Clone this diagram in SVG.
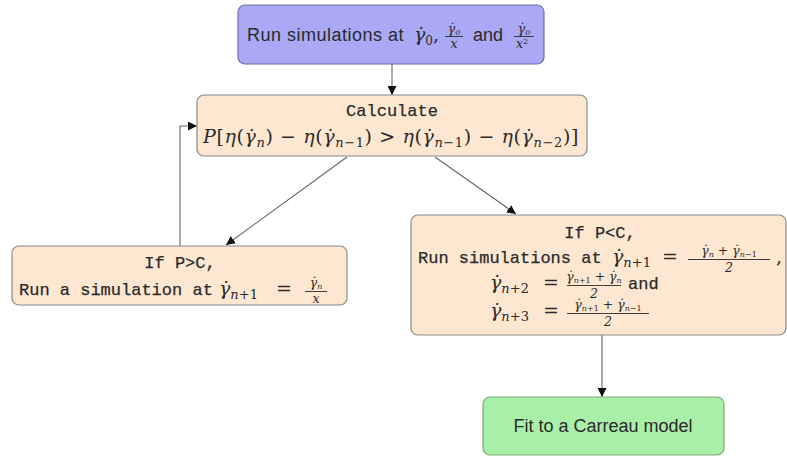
<svg xmlns="http://www.w3.org/2000/svg" width="787" height="458" viewBox="0 0 787 458">
  <style>
    .box { stroke: #8a8a8a; stroke-width: 1.2; }
    .blue { fill: #a9a9f6; stroke: #6e6ea8; }
    .peach { fill: #fde7d1; }
    .green { fill: #a8f0a8; stroke: #7aa87a; }
    .sans { font-family: "Liberation Sans", "DejaVu Sans", sans-serif; font-size: 18px; fill: #2a2a2a; }
    .mono { font-family: "Liberation Mono", "DejaVu Sans Mono", monospace; font-size: 17px; stroke: #2a2a2a; stroke-width: 0.25; fill: #2a2a2a; }
    .math { font-family: "DejaVu Serif", "Liberation Serif", serif; font-size: 19px; font-style: italic; fill: #2a2a2a; }
    .up { font-style: normal; }
    .sm { font-family: "DejaVu Serif", "Liberation Serif", serif; font-size: 12.5px; font-style: italic; fill: #2a2a2a; }
    .bar { stroke: #2a2a2a; stroke-width: 0.9; }
    .link { fill: none; stroke: #666; stroke-width: 1.1; }
  </style>
  <defs>
    <marker id="head" viewBox="0 0 10 10" refX="10" refY="5" markerWidth="9" markerHeight="9" markerUnits="userSpaceOnUse" orient="auto">
      <path d="M0,0 L10,5 L0,10 z" fill="#111"/>
    </marker>
  </defs>

  <!-- connectors -->
  <g id="connectors">
    <path class="link" d="M392,64 L392,95" marker-end="url(#head)"/>
    <path class="link" d="M347,157 L226,245" marker-end="url(#head)"/>
    <path class="link" d="M435,157 L516,214" marker-end="url(#head)"/>
    <path class="link" d="M180,246 L180,126 L197,126" marker-end="url(#head)"/>
    <path class="link" d="M602,335 L602,397" marker-end="url(#head)"/>
  </g>

  <!-- start: initial simulations -->
  <g id="start">
    <rect class="box blue" x="238" y="5" width="306" height="59" rx="7"/>
    <text class="sans" x="247" y="41" letter-spacing="0.5">Run simulations at</text>
    <text class="math" x="414" y="41">γ̇<tspan class="up" font-size="12" dy="4">0</tspan><tspan class="up" dy="-4">,</tspan></text>
    <text class="sm" x="454" y="33" text-anchor="middle">γ̇<tspan font-size="8" dy="2">0</tspan></text>
    <line class="bar" x1="445" y1="36.5" x2="463" y2="36.5"/>
    <text class="sm" x="454" y="48" text-anchor="middle">x</text>
    <text class="sans" x="473" y="41">and</text>
    <text class="sm" x="524" y="33" text-anchor="middle">γ̇<tspan font-size="8" dy="2">0</tspan></text>
    <line class="bar" x1="514" y1="36.5" x2="534" y2="36.5"/>
    <text class="sm" x="522" y="48" text-anchor="middle">x<tspan font-size="8" font-style="normal" dy="-4">2</tspan></text>
  </g>

  <!-- calculate probability -->
  <g id="calculate">
    <rect class="box peach" x="197" y="95" width="390" height="61" rx="7"/>
    <text class="mono" x="392" y="116" text-anchor="middle">Calculate</text>
    <text class="math" x="391" y="143" text-anchor="middle" font-size="21" letter-spacing="0.6">P<tspan class="up">[</tspan>η<tspan class="up">(</tspan>γ̇<tspan font-size="13" dy="4">n</tspan><tspan class="up" dy="-4">) − </tspan>η<tspan class="up">(</tspan>γ̇<tspan font-size="13" dy="4">n<tspan class="up">−1</tspan></tspan><tspan class="up" dy="-4">) &gt; </tspan>η<tspan class="up">(</tspan>γ̇<tspan font-size="13" dy="4">n<tspan class="up">−1</tspan></tspan><tspan class="up" dy="-4">) − </tspan>η<tspan class="up">(</tspan>γ̇<tspan font-size="13" dy="4">n<tspan class="up">−2</tspan></tspan><tspan class="up" dy="-4">)]</tspan></text>
  </g>

  <!-- branch P > C -->
  <g id="branch-high">
    <rect class="box peach" x="12" y="246" width="335" height="59" rx="7"/>
    <text class="mono" x="180" y="268" text-anchor="middle">If P&gt;C,</text>
    <text class="mono" x="19" y="295">Run a simulation at</text>
    <text class="math" x="219" y="295">γ̇<tspan font-size="13" dy="4">n<tspan class="up">+1</tspan></tspan></text>
    <text class="math up" x="276" y="295">=</text>
    <text class="sm" x="316" y="287" text-anchor="middle">γ̇<tspan font-size="8" dy="2">n</tspan></text>
    <line class="bar" x1="305" y1="291.5" x2="327" y2="291.5"/>
    <text class="sm" x="316" y="303" text-anchor="middle">x</text>
  </g>

  <!-- branch P < C -->
  <g id="branch-low">
    <rect class="box peach" x="411" y="215" width="375" height="120" rx="7"/>
    <text class="mono" x="600" y="238" text-anchor="middle">If P&lt;C,</text>
    <text class="mono" x="418" y="263">Run simulations at</text>
    <text class="math" x="612" y="263">γ̇<tspan font-size="13" dy="4">n<tspan class="up">+1</tspan></tspan></text>
    <text class="math up" x="662" y="263">=</text>
    <text class="sm" x="729" y="255" text-anchor="middle">γ̇<tspan font-size="8" dy="2">n</tspan><tspan class="up" dy="-2"> + </tspan>γ̇<tspan font-size="8" dy="2">n<tspan font-style="normal">−1</tspan></tspan></text>
    <line class="bar" x1="688" y1="259.5" x2="770" y2="259.5"/>
    <text class="sm" x="729" y="272" text-anchor="middle" font-style="normal">2</text>
    <text class="math up" x="776" y="263">,</text>

    <text class="math" x="490" y="289">γ̇<tspan font-size="13" dy="4">n<tspan class="up">+2</tspan></tspan></text>
    <text class="math up" x="543" y="289">=</text>
    <text class="sm" x="594" y="281" text-anchor="middle">γ̇<tspan font-size="8" dy="2">n<tspan font-style="normal">+1</tspan></tspan><tspan class="up" dy="-2"> + </tspan>γ̇<tspan font-size="8" dy="2">n</tspan></text>
    <line class="bar" x1="567" y1="285.5" x2="621" y2="285.5"/>
    <text class="sm" x="594" y="298" text-anchor="middle" font-style="normal">2</text>
    <text class="mono" x="628" y="289">and</text>

    <text class="math" x="490" y="317">γ̇<tspan font-size="13" dy="4">n<tspan class="up">+3</tspan></tspan></text>
    <text class="math up" x="543" y="317">=</text>
    <text class="sm" x="608" y="309" text-anchor="middle">γ̇<tspan font-size="8" dy="2">n<tspan font-style="normal">+1</tspan></tspan><tspan class="up" dy="-2"> + </tspan>γ̇<tspan font-size="8" dy="2">n<tspan font-style="normal">−1</tspan></tspan></text>
    <line class="bar" x1="567" y1="313.5" x2="649" y2="313.5"/>
    <text class="sm" x="608" y="326" text-anchor="middle" font-style="normal">2</text>
  </g>

  <!-- final fit -->
  <g id="fit">
    <rect class="box green" x="483" y="397" width="241" height="58" rx="7"/>
    <text class="sans" x="603" y="432" text-anchor="middle">Fit to a Carreau model</text>
  </g>
</svg>
